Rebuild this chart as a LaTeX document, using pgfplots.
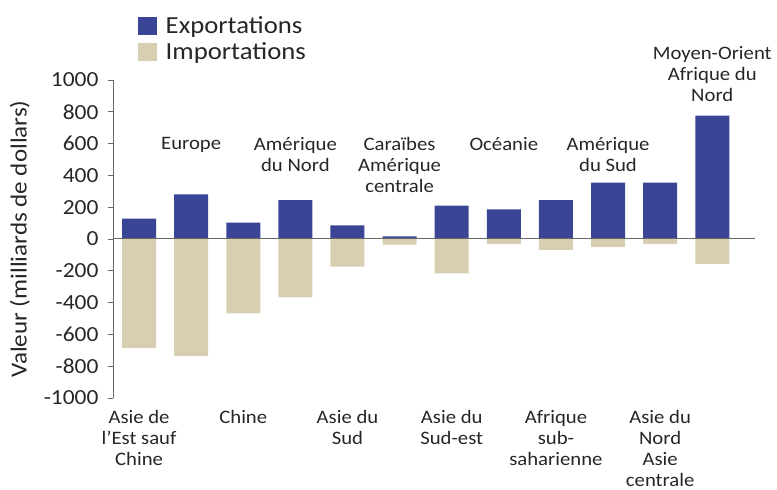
\documentclass[border=0pt]{standalone}
\usepackage{fontspec}
\setmainfont{Carlito}[FakeStretch=1.09]
\usepackage{pgfplots}
\pgfplotsset{compat=1.18}
\definecolor{expc}{RGB}{58,69,150}
\definecolor{impc}{RGB}{216,207,178}
\newcommand{\catfont}{\fontsize{19}{21}\selectfont}
\begin{document}
\begin{tikzpicture}
\begin{axis}[
  at={(0,0)}, anchor=south west,
  scale only axis, width=642pt, height=318pt,
  xmin=-0.5, xmax=11.82, ymin=-1000, ymax=1000,
  ybar, bar width=34pt, bar shift=0pt,
  clip=false,
  axis y line*=left, axis x line*=bottom,
  x axis line style={draw=none},
  y axis line style={draw=gray!80!black, line width=0.8pt},
  ytick={-1000,-800,...,1000},
  y tick style={draw=gray!80!black, line width=0.8pt},
  tick align=outside, major tick length=5pt,
  x tick style={draw=none},
  xtick={0,2,4,6,8,10},
  xticklabels={{Asie de\\l’Est sauf\\Chine},Chine,{Asie du\\Sud},{Asie du\\Sud-est},{Afrique\\sub-\\saharienne},{Asie du\\Nord\\Asie\\centrale}},
  xticklabel style={align=center, font=\catfont, anchor=north, yshift=-4pt, text=black!85},
  yticklabel style={font=\fontsize{21.5}{24}\selectfont, text=black!85, xshift=-6pt},
  /pgf/number format/assume math mode=true,
  /pgf/number format/1000 sep={},
  extra y ticks={0}, extra y tick labels={},
  extra y tick style={grid=major, major grid style={draw=gray!80!black, line width=1pt}},
  ylabel={Valeur (milliards de dollars)},
  ylabel style={at={(axis description cs:-0.145,0.5)}, anchor=center, font=\fontsize{23}{24}\selectfont, text=black!85},
  axis on top,
  legend style={at={(0.039,1.205)}, anchor=north west, draw=none, fill=none, inner sep=0pt, row sep=5pt,
    nodes={inner sep=1.5pt, font=\fontsize{24.5}{26}\selectfont, text=black!85}},
  legend cell align=left,
  legend image code/.code={\fill[#1] (0pt,-9pt) rectangle (19pt,9pt);},
]
\addplot[fill=expc, draw=none] coordinates {(0,128) (1,281) (2,103) (3,245) (4,86) (5,17) (6,210) (7,187) (8,245) (9,354) (10,354) (11,776)};
\addlegendentry{\hspace{7pt}Exportations}
\addplot[fill=impc, draw=none] coordinates {(0,-687) (1,-736) (2,-467) (3,-367) (4,-174) (5,-36) (6,-216) (7,-33) (8,-69) (9,-50) (10,-33) (11,-157)};
\addlegendentry{\hspace{7pt}Importations}
\node[anchor=north, align=center, font=\catfont, text=black!85] at (axis cs:1,660) {Europe};
\node[anchor=north, align=center, font=\catfont, text=black!85] at (axis cs:3,660) {Amérique\\du Nord};
\node[anchor=north, align=center, font=\catfont, text=black!85] at (axis cs:5,660) {Caraïbes\\Amérique\\centrale};
\node[anchor=north, align=center, font=\catfont, text=black!85] at (axis cs:7,660) {Océanie};
\node[anchor=north, align=center, font=\catfont, text=black!85] at (axis cs:9,660) {Amérique\\du Sud};
\node[anchor=north, align=center, font=\catfont, text=black!85] at (axis cs:11,1232) {Moyen-Orient\\Afrique du\\Nord};
\end{axis}
\pgfresetboundingbox
\path[use as bounding box] (-113pt,-92pt) rectangle (664pt,398pt);
\end{tikzpicture}
\end{document}
